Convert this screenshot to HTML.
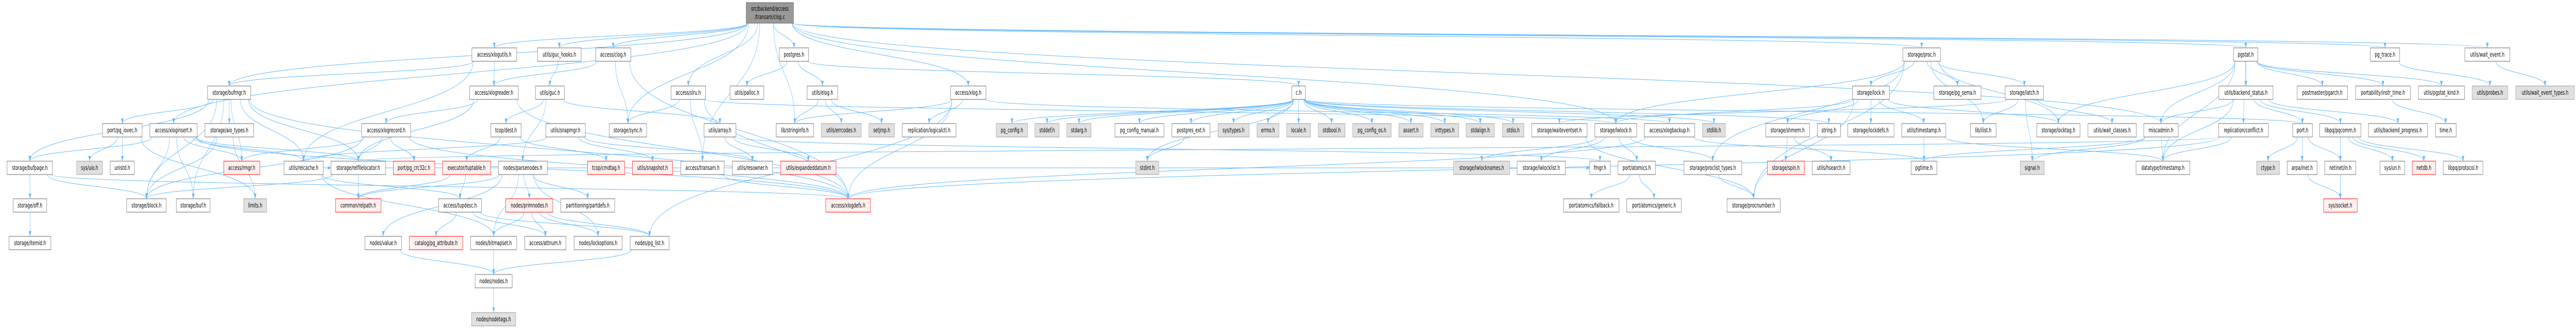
<!DOCTYPE html>
<html><head><meta charset="utf-8">
<style>
html,body{margin:0;padding:0;background:#fff;width:100%;height:100%;overflow:hidden;}
svg{display:block;width:100vw;height:100vh;}
text{font-family:"DejaVu Sans","Liberation Sans",sans-serif;font-size:12px;fill:#000;text-anchor:middle;}
.n rect{fill:#fff;stroke:#666;stroke-width:1;}
.g rect{fill:#e0e0e0;stroke:#999;stroke-width:1;}
.r rect{fill:#fff0f0;stroke:#f00;stroke-width:1;}
.m rect{fill:#999;stroke:#666;stroke-width:1;}
#edges path{fill:none;stroke:#63b8ff;stroke-width:1;}
</style></head><body>
<svg id="s" viewBox="0 0 7992 637" preserveAspectRatio="none" xmlns="http://www.w3.org/2000/svg">
<defs><marker id="ah" markerWidth="10" markerHeight="8" refX="10" refY="4" orient="auto" markerUnits="userSpaceOnUse"><path d="M0,0 L10,4 L0,8 z" fill="#63b8ff"/></marker></defs>
<g id="edges"></g>
<g id="nodes">
<g id="clogc" class="m"><rect x="2315" y="5" width="147" height="40"/><text x="2388.5" y="21">src/backend/access</text><text x="2388.5" y="37">/transam/clog.c</text></g>
<g id="bufmgr" class="n"><rect x="644" y="167" width="134" height="26"/><text x="711" y="184">storage/bufmgr.h</text></g>
<g id="pg_iovec" class="n"><rect x="318" y="240" width="123" height="26"/><text x="379.5" y="257">port/pg_iovec.h</text></g>
<g id="xloginsert" class="n"><rect x="465" y="240" width="147" height="26"/><text x="538.5" y="257">access/xloginsert.h</text></g>
<g id="aio_types" class="n"><rect x="636" y="240" width="151" height="26"/><text x="711.5" y="257">storage/aio_types.h</text></g>
<g id="bufpage" class="n"><rect x="22" y="313" width="141" height="26"/><text x="92.5" y="330">storage/bufpage.h</text></g>
<g id="uio" class="g"><rect x="238" y="313" width="80" height="26"/><text x="278" y="330">sys/uio.h</text></g>
<g id="unistd" class="n"><rect x="342" y="313" width="75" height="26"/><text x="379.5" y="330">unistd.h</text></g>
<g id="rmgr" class="r"><rect x="694" y="313" width="112" height="26"/><text x="750" y="330">access/rmgr.h</text></g>
<g id="relcache" class="n"><rect x="881" y="313" width="122" height="26"/><text x="942" y="330">utils/relcache.h</text></g>
<g id="off" class="n"><rect x="41" y="386" width="104" height="26"/><text x="93" y="403">storage/off.h</text></g>
<g id="block" class="n"><rect x="393" y="386" width="123" height="26"/><text x="454.5" y="403">storage/block.h</text></g>
<g id="buf" class="n"><rect x="547" y="386" width="105" height="26"/><text x="599.5" y="403">storage/buf.h</text></g>
<g id="limits" class="g"><rect x="756" y="386" width="71" height="26"/><text x="791.5" y="403">limits.h</text></g>
<g id="itemid" class="n"><rect x="28" y="459" width="130" height="26"/><text x="93" y="476">storage/itemid.h</text></g>
<g id="xlogutils" class="n"><rect x="1464" y="93" width="139" height="26"/><text x="1533.5" y="110">access/xlogutils.h</text></g>
<g id="guc_hooks" class="n"><rect x="1668" y="93" width="135" height="26"/><text x="1735.5" y="110">utils/guc_hooks.h</text></g>
<g id="clogh" class="n"><rect x="1848" y="93" width="109" height="26"/><text x="1902.5" y="110">access/clog.h</text></g>
<g id="xlogreader" class="n"><rect x="1457" y="167" width="151" height="26"/><text x="1532.5" y="184">access/xlogreader.h</text></g>
<g id="guc" class="n"><rect x="1661" y="167" width="90" height="26"/><text x="1706" y="184">utils/guc.h</text></g>
<g id="xlogrecord" class="n"><rect x="1122" y="240" width="152" height="26"/><text x="1198" y="257">access/xlogrecord.h</text></g>
<g id="dest" class="n"><rect x="1523" y="240" width="94" height="26"/><text x="1570" y="257">tcop/dest.h</text></g>
<g id="snapmgr" class="n"><rect x="1693" y="240" width="123" height="26"/><text x="1754.5" y="257">utils/snapmgr.h</text></g>
<g id="sync" class="n"><rect x="1890" y="240" width="116" height="26"/><text x="1948" y="257">storage/sync.h</text></g>
<g id="relfilelocator" class="n"><rect x="1027" y="313" width="169" height="26"/><text x="1111.5" y="330">storage/relfilelocator.h</text></g>
<g id="crc32c" class="r"><rect x="1220" y="313" width="129" height="26"/><text x="1284.5" y="330">port/pg_crc32c.h</text></g>
<g id="tuptable" class="r"><rect x="1373" y="313" width="149" height="26"/><text x="1447.5" y="330">executor/tuptable.h</text></g>
<g id="parsenodes" class="n"><rect x="1546" y="313" width="152" height="26"/><text x="1622" y="330">nodes/parsenodes.h</text></g>
<g id="cmdtag" class="r"><rect x="1823" y="313" width="115" height="26"/><text x="1880.5" y="330">tcop/cmdtag.h</text></g>
<g id="snapshot" class="r"><rect x="1962" y="313" width="125" height="26"/><text x="2024.5" y="330">utils/snapshot.h</text></g>
<g id="relpath" class="r"><rect x="1041" y="386" width="141" height="26"/><text x="1111.5" y="403">common/relpath.h</text></g>
<g id="tupdesc" class="n"><rect x="1361" y="386" width="133" height="26"/><text x="1427.5" y="403">access/tupdesc.h</text></g>
<g id="primnodes" class="r"><rect x="1569" y="386" width="146" height="26"/><text x="1642" y="403">nodes/primnodes.h</text></g>
<g id="partdefs" class="n"><rect x="1740" y="386" width="167" height="26"/><text x="1823.5" y="403">partitioning/partdefs.h</text></g>
<g id="value" class="n"><rect x="1132" y="459" width="114" height="26"/><text x="1189" y="476">nodes/value.h</text></g>
<g id="pg_attribute" class="r"><rect x="1270" y="459" width="166" height="26"/><text x="1353" y="476">catalog/pg_attribute.h</text></g>
<g id="bitmapset" class="n"><rect x="1460" y="459" width="143" height="26"/><text x="1531.5" y="476">nodes/bitmapset.h</text></g>
<g id="attnum" class="n"><rect x="1628" y="459" width="128" height="26"/><text x="1692" y="476">access/attnum.h</text></g>
<g id="lockoptions" class="n"><rect x="1781" y="459" width="149" height="26"/><text x="1855.5" y="476">nodes/lockoptions.h</text></g>
<g id="pg_list" class="n"><rect x="1955" y="459" width="121" height="26"/><text x="2015.5" y="476">nodes/pg_list.h</text></g>
<g id="nodes_h" class="n"><rect x="1474" y="533" width="115" height="26"/><text x="1531.5" y="550">nodes/nodes.h</text></g>
<g id="nodetags" class="g"><rect x="1463" y="607" width="137" height="26"/><text x="1531.5" y="624">nodes/nodetags.h</text></g>
<g id="postgres" class="n"><rect x="2418" y="93" width="91" height="26"/><text x="2463.5" y="110">postgres.h</text></g>
<g id="slru" class="n"><rect x="2082" y="167" width="107" height="26"/><text x="2135.5" y="184">access/slru.h</text></g>
<g id="palloc" class="n"><rect x="2265" y="167" width="105" height="26"/><text x="2317.5" y="184">utils/palloc.h</text></g>
<g id="elog" class="n"><rect x="2504" y="167" width="95" height="26"/><text x="2551.5" y="184">utils/elog.h</text></g>
<g id="xlog" class="n"><rect x="2949" y="167" width="110" height="26"/><text x="3004" y="184">access/xlog.h</text></g>
<g id="array" class="n"><rect x="2184" y="240" width="99" height="26"/><text x="2233.5" y="257">utils/array.h</text></g>
<g id="stringinfo" class="n"><rect x="2408" y="240" width="116" height="26"/><text x="2466" y="257">lib/stringinfo.h</text></g>
<g id="errcodes" class="g"><rect x="2548" y="240" width="124" height="26"/><text x="2610" y="257">utils/errcodes.h</text></g>
<g id="setjmp" class="g"><rect x="2696" y="240" width="79" height="26"/><text x="2735.5" y="257">setjmp.h</text></g>
<g id="logicalctl" class="n"><rect x="2799" y="240" width="167" height="26"/><text x="2882.5" y="257">replication/logicalctl.h</text></g>
<g id="transam" class="n"><rect x="2112" y="313" width="135" height="26"/><text x="2179.5" y="330">access/transam.h</text></g>
<g id="resowner" class="n"><rect x="2272" y="313" width="125" height="26"/><text x="2334.5" y="330">utils/resowner.h</text></g>
<g id="expandeddatum" class="r"><rect x="2422" y="313" width="172" height="26"/><text x="2508" y="330">utils/expandeddatum.h</text></g>
<g id="xlogdefs" class="r"><rect x="2562" y="386" width="139" height="26"/><text x="2631.5" y="403">access/xlogdefs.h</text></g>
<g id="pg_config" class="g"><rect x="3091" y="240" width="97" height="26"/><text x="3139.5" y="257">pg_config.h</text></g>
<g id="stddef" class="g"><rect x="3211" y="240" width="75" height="26"/><text x="3248.5" y="257">stddef.h</text></g>
<g id="stdarg" class="g"><rect x="3310" y="240" width="75" height="26"/><text x="3347.5" y="257">stdarg.h</text></g>
<g id="pg_config_manual" class="n"><rect x="3459" y="240" width="152" height="26"/><text x="3535" y="257">pg_config_manual.h</text></g>
<g id="postgres_ext" class="n"><rect x="3636" y="240" width="118" height="26"/><text x="3695" y="257">postgres_ext.h</text></g>
<g id="systypes" class="g"><rect x="3779" y="240" width="96" height="26"/><text x="3827" y="257">sys/types.h</text></g>
<g id="errno" class="g"><rect x="3900" y="240" width="68" height="26"/><text x="3934" y="257">errno.h</text></g>
<g id="locale" class="g"><rect x="3992" y="240" width="74" height="26"/><text x="4029" y="257">locale.h</text></g>
<g id="stdint" class="g"><rect x="3524" y="313" width="71" height="26"/><text x="3559.5" y="330">stdint.h</text></g>
<g id="ch" class="n"><rect x="4008" y="167" width="42" height="26"/><text x="4029" y="184">c.h</text></g>
<g id="stdbool" class="g"><rect x="4090" y="240" width="83" height="26"/><text x="4131.5" y="257">stdbool.h</text></g>
<g id="pg_config_os" class="g"><rect x="4197" y="240" width="119" height="26"/><text x="4256.5" y="257">pg_config_os.h</text></g>
<g id="assert" class="g"><rect x="4340" y="240" width="75" height="26"/><text x="4377.5" y="257">assert.h</text></g>
<g id="inttypes" class="g"><rect x="4439" y="240" width="87" height="26"/><text x="4482.5" y="257">inttypes.h</text></g>
<g id="stdalign" class="g"><rect x="4549" y="240" width="87" height="26"/><text x="4592.5" y="257">stdalign.h</text></g>
<g id="stdio" class="g"><rect x="4661" y="240" width="67" height="26"/><text x="4694.5" y="257">stdio.h</text></g>
<g id="waiteventset" class="n"><rect x="4752" y="240" width="172" height="26"/><text x="4838" y="257">storage/waiteventset.h</text></g>
<g id="lwlock" class="n"><rect x="4948" y="240" width="130" height="26"/><text x="5013" y="257">storage/lwlock.h</text></g>
<g id="lwlocknames" class="g"><rect x="4510" y="313" width="174" height="26"/><text x="4597" y="330">storage/lwlocknames.h</text></g>
<g id="lwlocklist" class="n"><rect x="4707" y="313" width="150" height="26"/><text x="4782" y="330">storage/lwlocklist.h</text></g>
<g id="fmgr" class="n"><rect x="4932" y="313" width="64" height="26"/><text x="4964" y="330">fmgr.h</text></g>
<g id="fallback" class="n"><rect x="4851" y="386" width="172" height="26"/><text x="4937" y="403">port/atomics/fallback.h</text></g>
<g id="proc" class="n"><rect x="5904" y="93" width="116" height="26"/><text x="5962" y="110">storage/proc.h</text></g>
<g id="lock" class="n"><rect x="5747" y="167" width="115" height="26"/><text x="5804.5" y="184">storage/lock.h</text></g>
<g id="xlogbackup" class="n"><rect x="5101" y="240" width="157" height="26"/><text x="5179.5" y="257">access/xlogbackup.h</text></g>
<g id="stdlib" class="g"><rect x="5282" y="240" width="71" height="26"/><text x="5317.5" y="257">stdlib.h</text></g>
<g id="shmem" class="n"><rect x="5478" y="240" width="136" height="26"/><text x="5546" y="257">storage/shmem.h</text></g>
<g id="string" class="n"><rect x="5638" y="240" width="72" height="26"/><text x="5674" y="257">string.h</text></g>
<g id="lockdefs" class="n"><rect x="5733" y="240" width="143" height="26"/><text x="5804.5" y="257">storage/lockdefs.h</text></g>
<g id="timestamp" class="n"><rect x="5900" y="240" width="137" height="26"/><text x="5968.5" y="257">utils/timestamp.h</text></g>
<g id="atomics" class="n"><rect x="5020" y="313" width="116" height="26"/><text x="5078" y="330">port/atomics.h</text></g>
<g id="proclist" class="n"><rect x="5224" y="313" width="180" height="26"/><text x="5314" y="330">storage/proclist_types.h</text></g>
<g id="spin" class="r"><rect x="5483" y="313" width="115" height="26"/><text x="5540.5" y="330">storage/spin.h</text></g>
<g id="hsearch" class="n"><rect x="5622" y="313" width="118" height="26"/><text x="5681" y="330">utils/hsearch.h</text></g>
<g id="pgtime" class="n"><rect x="5929" y="313" width="80" height="26"/><text x="5969" y="330">pgtime.h</text></g>
<g id="generic" class="n"><rect x="5047" y="386" width="169" height="26"/><text x="5131.5" y="403">port/atomics/generic.h</text></g>
<g id="procnumber" class="n"><rect x="5358" y="386" width="165" height="26"/><text x="5440.5" y="403">storage/procnumber.h</text></g>
<g id="pgstat" class="n"><rect x="6930" y="93" width="75" height="26"/><text x="6967.5" y="110">pgstat.h</text></g>
<g id="pg_sema" class="n"><rect x="6000" y="167" width="146" height="26"/><text x="6073" y="184">storage/pg_sema.h</text></g>
<g id="latch" class="n"><rect x="6221" y="167" width="119" height="26"/><text x="6280.5" y="184">storage/latch.h</text></g>
<g id="backend_status" class="n"><rect x="6884" y="167" width="168" height="26"/><text x="6968" y="184">utils/backend_status.h</text></g>
<g id="ilist" class="n"><rect x="6113" y="240" width="80" height="26"/><text x="6153" y="257">lib/ilist.h</text></g>
<g id="locktag" class="n"><rect x="6319" y="240" width="134" height="26"/><text x="6386" y="257">storage/locktag.h</text></g>
<g id="wait_classes" class="n"><rect x="6478" y="240" width="150" height="26"/><text x="6553" y="257">utils/wait_classes.h</text></g>
<g id="miscadmin" class="n"><rect x="6651" y="240" width="107" height="26"/><text x="6704.5" y="257">miscadmin.h</text></g>
<g id="conflict" class="n"><rect x="6883" y="240" width="155" height="26"/><text x="6960.5" y="257">replication/conflict.h</text></g>
<g id="signal" class="g"><rect x="6268" y="313" width="74" height="26"/><text x="6305" y="330">signal.h</text></g>
<g id="dtimestamp" class="n"><rect x="6627" y="313" width="167" height="26"/><text x="6710.5" y="330">datatype/timestamp.h</text></g>
<g id="pg_trace" class="n"><rect x="7354" y="93" width="91" height="26"/><text x="7399.5" y="110">pg_trace.h</text></g>
<g id="wait_event" class="n"><rect x="7647" y="93" width="140" height="26"/><text x="7717" y="110">utils/wait_event.h</text></g>
<g id="pgarch" class="n"><rect x="7127" y="167" width="156" height="26"/><text x="7205" y="184">postmaster/pgarch.h</text></g>
<g id="instr_time" class="n"><rect x="7308" y="167" width="170" height="26"/><text x="7393" y="184">portability/instr_time.h</text></g>
<g id="pgstat_kind" class="n"><rect x="7503" y="167" width="143" height="26"/><text x="7574.5" y="184">utils/pgstat_kind.h</text></g>
<g id="probes" class="g"><rect x="7670" y="167" width="110" height="26"/><text x="7725" y="184">utils/probes.h</text></g>
<g id="wait_event_types" class="g"><rect x="7805" y="167" width="182" height="26"/><text x="7896" y="184">utils/wait_event_types.h</text></g>
<g id="port" class="n"><rect x="7113" y="240" width="61" height="26"/><text x="7143.5" y="257">port.h</text></g>
<g id="pqcomm" class="n"><rect x="7197" y="240" width="128" height="26"/><text x="7261" y="257">libpq/pqcomm.h</text></g>
<g id="backend_progress" class="n"><rect x="7348" y="240" width="183" height="26"/><text x="7439.5" y="257">utils/backend_progress.h</text></g>
<g id="time" class="n"><rect x="7556" y="240" width="64" height="26"/><text x="7588" y="257">time.h</text></g>
<g id="ctype" class="g"><rect x="7001" y="313" width="71" height="26"/><text x="7036.5" y="330">ctype.h</text></g>
<g id="arpainet" class="n"><rect x="7096" y="313" width="93" height="26"/><text x="7142.5" y="330">arpa/inet.h</text></g>
<g id="netinetin" class="n"><rect x="7213" y="313" width="96" height="26"/><text x="7261" y="330">netinet/in.h</text></g>
<g id="sysun" class="n"><rect x="7384" y="313" width="77" height="26"/><text x="7422.5" y="330">sys/un.h</text></g>
<g id="netdb" class="r"><rect x="7484" y="313" width="72" height="26"/><text x="7520" y="330">netdb.h</text></g>
<g id="protocol" class="n"><rect x="7580" y="313" width="123" height="26"/><text x="7641.5" y="330">libpq/protocol.h</text></g>
<g id="socket" class="r"><rect x="7209" y="386" width="104" height="26"/><text x="7261" y="403">sys/socket.h</text></g>
</g>
</svg>
<script>
(function(){
var E="clogc>postgres,slru,xlog,xlogutils,guc_hooks,clogh,bufmgr,xloginsert,proc,pgstat,pg_trace,wait_event,miscadmin,sync,stringinfo,transam,lwlock|postgres>ch,palloc,elog|ch>pg_config,stddef,stdarg,pg_config_manual,postgres_ext,systypes,errno,locale,stdbool,pg_config_os,assert,inttypes,stdalign,stdio,stdint,stdlib,string,port|postgres_ext>stdint|elog>stringinfo,errcodes,setjmp|bufmgr>pg_iovec,aio_types,relcache,bufpage,block,buf,xlogdefs,relfilelocator,rmgr|pg_iovec>uio,unistd,limits|xloginsert>bufpage,block,buf,rmgr,relcache,xlogdefs,relfilelocator|aio_types>block,limits|bufpage>off,block,xlogdefs|off>itemid|relcache>tupdesc,bitmapset,relfilelocator,fmgr|xlogutils>xlogreader,bufmgr,relcache|xlogreader>xlogrecord,xlogdefs,relfilelocator|xlogrecord>relfilelocator,crc32c,rmgr,block,xlogdefs|relfilelocator>relpath,block|guc_hooks>guc|guc>dest,parsenodes,array|dest>tuptable,cmdtag|tuptable>tupdesc,relpath|tupdesc>pg_attribute,attnum,pg_list|parsenodes>value,bitmapset,primnodes,partdefs,lockoptions,relpath|primnodes>bitmapset,attnum,lockoptions,pg_list|value>nodes_h|bitmapset>nodes_h|pg_list>nodes_h|nodes_h>nodetags|clogh>xlogreader,sync,xlogdefs|snapmgr>snapshot,resowner,relcache|slru>transam,xlogdefs,sync,lwlock|array>expandeddatum,resowner,fmgr|transam>xlogdefs|xlog>stringinfo,logicalctl,xlogdefs,xlogbackup,pg_list|proc>lock,pg_sema,latch,proclist,procnumber,lwlock,ilist,locktag|lock>shmem,lockdefs,timestamp,procnumber,lwlock,locktag|shmem>spin,hsearch|timestamp>pgtime,dtimestamp|lwlock>atomics,proclist,lwlocknames,lwlocklist|latch>signal,wait_classes,ilist,waiteventset|waiteventset>procnumber|atomics>fallback,generic|proclist>procnumber|pgstat>backend_status,conflict,dtimestamp,pgarch,instr_time,pgstat_kind,locktag,miscadmin|backend_status>miscadmin,dtimestamp,pqcomm,backend_progress,port|miscadmin>dtimestamp,signal,pgtime|instr_time>time|pg_trace>probes|wait_event>wait_event_types|port>ctype,arpainet,netinetin|pqcomm>netinetin,socket,sysun,netdb,protocol|arpainet>socket|netinetin>socket|conflict>dtimestamp,xlogdefs,relfilelocator|xlogbackup>pgtime,xlogdefs";
var NS="http://www.w3.org/2000/svg",eg=document.getElementById("edges");
function R(id){var r=document.querySelector("#"+id+" rect");return{x:+r.getAttribute("x"),y:+r.getAttribute("y"),w:+r.getAttribute("width"),h:+r.getAttribute("height")};}
E.split("|").forEach(function(g){var p=g.split(">"),a=R(p[0]);p[1].split(",").forEach(function(t){var b=R(t),d;
if(b.y>=a.y+a.h){var sx=a.x+a.w/2,sy=a.y+a.h,tx=b.x+b.w/2,ty=b.y,dy=ty-sy;
var off=(tx-sx)*0.15;sx=Math.max(a.x+4,Math.min(a.x+a.w-4,sx+off));
d="M"+sx+","+sy+" C"+sx+","+(sy+dy*0.5)+" "+tx+","+(ty-dy*0.5)+" "+tx+","+ty;}
else{var right=b.x>a.x,sx=right?a.x+a.w:a.x,sy=a.y+a.h/2,tx=right?b.x:b.x+b.w,ty=b.y+b.h/2,dx=tx-sx;
d="M"+sx+","+sy+" C"+(sx+dx*0.4)+","+sy+" "+(tx-dx*0.4)+","+ty+" "+tx+","+ty;}
var pa=document.createElementNS(NS,"path");pa.setAttribute("d",d);pa.setAttribute("marker-end","url(#ah)");eg.appendChild(pa);});});
})();
</script>
</body></html>
